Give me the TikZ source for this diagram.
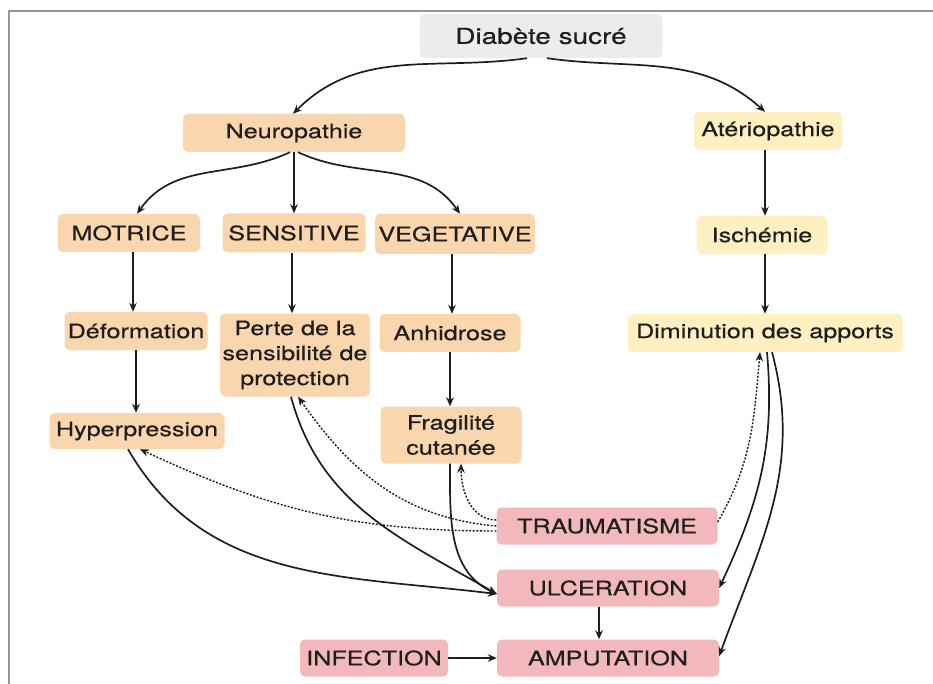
\documentclass[tikz,border=0pt]{standalone}
\usepackage{fontspec}
\setmainfont{TeX Gyre Heros}[FakeStretch=1.27,FakeBold=0.5]
\usetikzlibrary{arrows.meta}
\definecolor{peach}{RGB}{250,214,174}
\definecolor{lyellow}{RGB}{254,240,192}
\definecolor{lpink}{RGB}{243,184,188}
\definecolor{lgrey}{RGB}{236,236,236}
\definecolor{framegrey}{RGB}{150,150,150}
\definecolor{ink}{RGB}{30,30,30}
\begin{document}
\begin{tikzpicture}[x=1pt,y=1pt,
  box/.style={rounded corners=5pt, inner sep=0pt, align=center, text=ink,
    font=\fontsize{19.8}{25}\selectfont},
  pbox/.style={box, fill=peach},
  ybox/.style={box, fill=lyellow},
  rbox/.style={box, fill=lpink},
  conn/.style={draw=ink, line width=1.7pt, -{Stealth[length=9pt,width=7.5pt]}},
  dots/.style={draw=ink, line width=1.4pt, dash pattern=on 2pt off 1.6pt,
    -{Stealth[length=9pt,width=7.5pt]}},
]
\useasboundingbox (0,0) rectangle (933,-684);
\draw[framegrey, line width=2.5pt] (9,-684) -- (9,-11) -- (933,-11);

% nodes
\node[box, fill=lgrey, minimum width=243, minimum height=44, font=\fontsize{22}{26}\selectfont] (dia) at (541,-36) {Diabète sucré};
\node[pbox, minimum width=222, minimum height=38] (neuro) at (294,-133) {Neuropathie};
\node[ybox, minimum width=148, minimum height=38] (ater) at (768,-131) {Atériopathie};
\node[pbox, minimum width=142, minimum height=38] (mot) at (129,-233) {MOTRICE};
\node[pbox, minimum width=143, minimum height=39] (sens) at (294,-233) {SENSITIVE};
\node[pbox, minimum width=160, minimum height=40] (veg) at (455,-234) {VEGETATIVE};
\node[ybox, minimum width=131, minimum height=38] (isch) at (762,-235) {Ischémie};
\node[pbox, minimum width=143, minimum height=38] (defo) at (136,-331) {Déformation};
\node[pbox, minimum width=150, minimum height=83] (perte) at (295,-355) {Perte de la\\sensibilité de\\protection};
\node[pbox, minimum width=141, minimum height=38] (anh) at (450,-333) {Anhidrose};
\node[ybox, minimum width=275, minimum height=38] (dimi) at (765,-333) {Diminution des apports};
\node[pbox, minimum width=175, minimum height=36] (hyper) at (137,-431) {Hyperpression};
\node[pbox, minimum width=141, minimum height=57] (frag) at (451,-435) {Fragilité\\cutanée};
\node[rbox, minimum width=221, minimum height=37] (trauma) at (607,-526) {TRAUMATISME};
\node[rbox, minimum width=222, minimum height=37] (ulc) at (608,-588) {ULCERATION};
\node[rbox, minimum width=148, minimum height=37] (inf) at (374,-658) {INFECTION};
\node[rbox, minimum width=222, minimum height=37] (amp) at (608,-658) {AMPUTATION};

% tree arrows
\draw[conn] ([xshift=-14pt]dia.south) to[out=188,in=45] ([xshift=-1pt]neuro.north);
\draw[conn] ([xshift=6pt]dia.south) to[out=-8,in=138] ([xshift=-3pt]ater.north);
\draw[conn] ([xshift=-4pt]neuro.south) to[out=205,in=55] ([xshift=8pt]mot.north);
\draw[conn] (neuro.south) -- (neuro.south |- sens.north);
\draw[conn] ([xshift=4pt]neuro.south) to[out=-25,in=125] ([xshift=5pt]veg.north);

\draw[conn] ([xshift=4pt]mot.south) -- ([xshift=4pt]mot.south |- defo.north);
\draw[conn] (defo.south) -- (defo.south |- hyper.north);
\draw[conn] ([xshift=-2pt]sens.south) -- ([xshift=-2pt]sens.south |- perte.north);
\draw[conn] ([xshift=-3pt]veg.south) -- ([xshift=-3pt]veg.south |- anh.north);
\draw[conn] (anh.south) -- (anh.south |- frag.north);
\draw[conn] ([xshift=-3pt]ater.south) -- ([xshift=-3pt]ater.south |- isch.north);
\draw[conn] ([xshift=3pt]isch.south) -- ([xshift=3pt]isch.south |- dimi.north);
\draw[conn] ([xshift=-9pt]ulc.south) -- ([xshift=-9pt]ulc.south |- amp.north);
\draw[conn] (inf.east) -- (amp.west);

% solid curves into ULCERATION
\draw[conn] ([xshift=-9pt]hyper.south) to[out=-60,in=173] ([yshift=-6pt]ulc.west);
\draw[conn] ([xshift=-4pt]perte.south) to[out=-75,in=150] ([yshift=-6pt]ulc.west);
\draw[conn] ([xshift=-1pt]frag.south) to[out=-90,in=155] ([yshift=-6pt]ulc.west);

% dotted from TRAUMATISME
\draw[dots] ([yshift=-5pt]trauma.west) to[out=180,in=-25] ([xshift=3pt]hyper.south);
\draw[dots] ([yshift=0pt]trauma.west) to[out=175,in=-55] ([xshift=3pt]perte.south);
\draw[dots] ([yshift=6pt]trauma.west) to[out=180,in=-90] ([xshift=10pt]frag.south);
\draw[dots] ([yshift=4pt]trauma.east) to[out=60,in=-95] ([xshift=-5pt]dimi.south);

% from Diminution des apports
\draw[conn] ([xshift=2pt]dimi.south) to[out=-85,in=65] (ulc.east);
\draw[conn] ([xshift=7pt]dimi.south) to[out=-75,in=70] ([yshift=2pt]amp.east);
\end{tikzpicture}
\end{document}
